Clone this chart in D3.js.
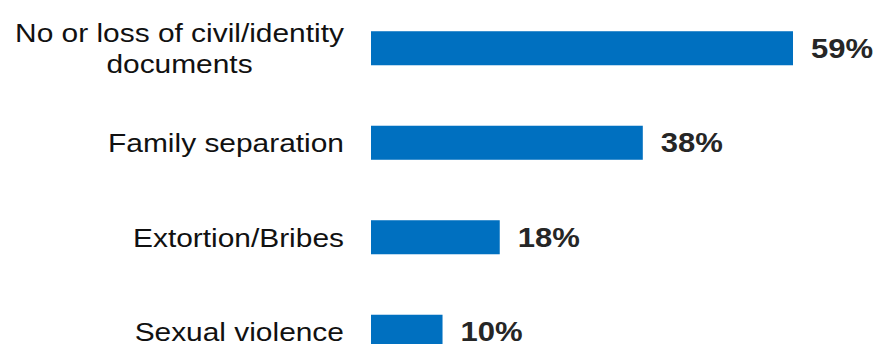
<!DOCTYPE html>
<html>
<head>
<meta charset="utf-8">
<script src="https://cdn.jsdelivr.net/npm/d3@7"></script>
<style>
  html, body { margin: 0; padding: 0; background: #ffffff; }
  svg { display: block; }
</style>
</head>
<body>
<svg id="chart" width="879" height="344"></svg>
<script>
// Share of respondents reporting each protection issue
const categories = [
  ["No or loss of civil/identity", "documents"],
  ["Family separation"],
  ["Extortion/Bribes"],
  ["Sexual violence"]
];
const values = [59, 38, 18, 10];
const valueLabels = ["59%", "38%", "18%", "10%"];

const svg = d3.select("#chart");
const W = 879, H = 344;

const keys = categories.map(c => c.join(" "));

const x = d3.scaleLinear().domain([0, 59]).range([371, 793]);
const y = d3.scaleBand()
  .domain(keys)
  .range([1, 379])
  .paddingInner(0.64)
  .paddingOuter(0.32);

const barColor = "#0070C0";
const stretch = 1.15;   // wide setting of the text faces

// Bars
svg.append("g")
  .selectAll("rect")
  .data(values)
  .join("rect")
  .attr("x", x(0))
  .attr("y", (d, i) => y(keys[i]))
  .attr("width", d => x(d) - x(0))
  .attr("height", y.bandwidth())
  .attr("fill", barColor);

// Value labels
svg.append("g")
  .selectAll("text")
  .data(values)
  .join("text")
  .attr("transform", (d, i) =>
    `translate(${x(d) + 18},${y(keys[i]) + y.bandwidth() / 2 + 9.5}) scale(${stretch},1)`)
  .attr("font-family", "Liberation Sans, Arial, sans-serif")
  .attr("font-weight", "bold")
  .attr("font-size", 27)
  .attr("fill", "#262626")
  .text((d, i) => valueLabels[i]);

// Category labels: right-aligned block, lines centred within it
const labelRight = 344;
const lineGap = 31;
const capHalf = 9.3;
const gLabels = svg.append("g");
categories.forEach((lines, i) => {
  const cy = y(keys[i]) + y.bandwidth() / 2;
  const t = gLabels.append("text")
    .attr("font-family", "Liberation Sans, Arial, sans-serif")
    .attr("font-size", 26)
    .attr("fill", "#111111")
    .attr("text-anchor", "middle");
  const spans = lines.map((ln, j) => t.append("tspan")
    .attr("x", 0)
    .attr("y", (j - (lines.length - 1) / 2) * lineGap + capHalf)
    .text(ln));
  const maxW = d3.max(spans, s => s.node().getComputedTextLength()) * stretch;
  t.attr("transform", `translate(${labelRight - maxW / 2},${cy}) scale(${stretch},1)`);
});
</script>
</body>
</html>
